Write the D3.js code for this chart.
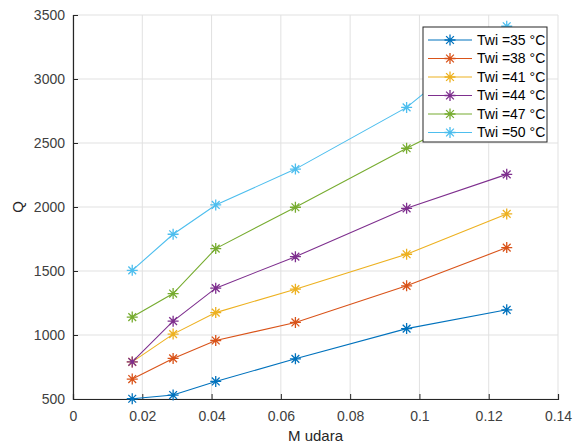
<!DOCTYPE html>
<html>
<head>
<meta charset="utf-8">
<script src="https://cdn.jsdelivr.net/npm/d3@7"></script>
<style>
  body { margin: 0; background: #fff; }
  svg { display: block; font-family: "Liberation Sans", Arial, sans-serif; }
</style>
</head>
<body>
<div id="chart"></div>
<script>
// mass flow of air (M udara)
const mUdara = [0.0171, 0.0289, 0.0412, 0.0642, 0.0963, 0.1252];

const seriesNames = ['Twi =35 °C', 'Twi =38 °C', 'Twi =41 °C', 'Twi =44 °C', 'Twi =47 °C', 'Twi =50 °C'];
const q35 = [502, 531, 637, 814, 1050, 1197];
const q38 = [656, 817, 957, 1098, 1384, 1683];
const q41 = [790, 1007, 1175, 1358, 1631, 1946];
const q44 = [790, 1108, 1366, 1612, 1990, 2255];
const q47 = [1140, 1324, 1675, 1998, 2459, 2850];
const q50 = [1505, 1787, 2016, 2296, 2778, 3412];

const xTicks = [0, 0.02, 0.04, 0.06, 0.08, 0.1, 0.12, 0.14];
const yTicks = [500, 1000, 1500, 2000, 2500, 3000, 3500];

const lineColors = ['#0072BD', '#D95319', '#EDB120', '#7E2F8E', '#77AC30', '#4DBEEE'];

const W = 575, H = 446;
const margin = { left: 73, right: 17, top: 15, bottom: 47 };

const seriesList = [q35, q38, q41, q44, q47, q50].map((vals, i) => ({
	name: seriesNames[i],
	color: lineColors[i],
	points: vals.map((v, j) => ({ x: mUdara[j], y: v }))
}));

const svg = d3.select('#chart').append('svg')
	.attr('width', W)
	.attr('height', H);

const xScale = d3.scaleLinear().domain([0, 0.14]).range([margin.left, W - margin.right]);
const yScale = d3.scaleLinear().domain([500, 3500]).range([H - margin.bottom, margin.top]);

// grid
const grid = svg.append('g').attr('class', 'grid');
grid.selectAll('line.vgrid').data(xTicks).enter().append('line')
	.attr('x1', d => xScale(d)).attr('x2', d => xScale(d))
	.attr('y1', yScale(500)).attr('y2', yScale(3500))
	.attr('stroke', '#e1e1e1').attr('stroke-width', 1);
grid.selectAll('line.hgrid').data(yTicks).enter().append('line')
	.attr('x1', xScale(0)).attr('x2', xScale(0.14))
	.attr('y1', d => yScale(d)).attr('y2', d => yScale(d))
	.attr('stroke', '#e1e1e1').attr('stroke-width', 1);

// axes, ticks inside like matlab
const xAxis = d3.axisBottom(xScale).tickValues(xTicks).tickSize(-5).tickPadding(12)
	.tickFormat(d => d3.format('~g')(d));
const yAxis = d3.axisLeft(yScale).tickValues(yTicks).tickSize(-5).tickPadding(8)
	.tickFormat(d3.format('d'));

const gx = svg.append('g').attr('transform', `translate(0,${yScale(500)})`).call(xAxis);
const gy = svg.append('g').attr('transform', `translate(${xScale(0)},0)`).call(yAxis);

[gx, gy].forEach(g => {
	g.select('.domain').attr('stroke', '#262626').attr('stroke-width', 1.2);
	g.selectAll('.tick line').attr('stroke', '#262626');
	g.selectAll('.tick text').attr('fill', '#404040').style('font-size', '14px');
});

// axis labels
svg.append('text')
	.attr('x', (xScale(0) + xScale(0.14)) / 2)
	.attr('y', H - 5)
	.attr('text-anchor', 'middle')
	.attr('fill', '#262626')
	.style('font-size', '15px')
	.text('M udara');

svg.append('text')
	.attr('transform', `translate(23,${yScale(2000)}) rotate(-90)`)
	.attr('text-anchor', 'middle')
	.attr('fill', '#262626')
	.style('font-size', '15px')
	.text('Q');

// asterisk marker
function starPath(cx, cy, r){
	let p = '';
	for (let k = 0; k < 4; k++){
		const a = k * Math.PI / 4;
		const dx = r * Math.cos(a), dy = r * Math.sin(a);
		p += `M${cx - dx},${cy - dy}L${cx + dx},${cy + dy}`;
	}
	return p;
}

const lineFn = d3.line().x(d => xScale(d.x)).y(d => yScale(d.y));

const plot = svg.append('g').attr('class', 'series');
seriesList.forEach(s => {
	const g = plot.append('g');
	g.append('path')
		.attr('d', lineFn(s.points))
		.attr('fill', 'none')
		.attr('stroke', s.color)
		.attr('stroke-width', 1.1);
	g.selectAll('path.mk').data(s.points).enter().append('path')
		.attr('class', 'mk')
		.attr('d', d => starPath(xScale(d.x), yScale(d.y), 5.5))
		.attr('stroke', s.color)
		.attr('stroke-width', 1.3);
});

// legend
const legX = 423, legY = 27, legW = 124, legH = 115, rowH = 18.5;
const legend = svg.append('g');
legend.append('rect')
	.attr('x', legX).attr('y', legY)
	.attr('width', legW).attr('height', legH)
	.attr('fill', '#fff')
	.attr('stroke', '#262626').attr('stroke-width', 1);

seriesList.forEach((s, i) => {
	const cy = legY + 13 + i * rowH;
	legend.append('line')
		.attr('x1', legX + 5).attr('x2', legX + 49)
		.attr('y1', cy).attr('y2', cy)
		.attr('stroke', s.color).attr('stroke-width', 1.1);
	legend.append('path')
		.attr('d', starPath(legX + 27, cy, 5.5))
		.attr('stroke', s.color).attr('stroke-width', 1.3);
	legend.append('text')
		.attr('x', legX + 54).attr('y', cy)
		.attr('dy', '0.35em')
		.attr('fill', '#000')
		.style('font-size', '14px')
		.text(s.name);
});
</script>
</body>
</html>
